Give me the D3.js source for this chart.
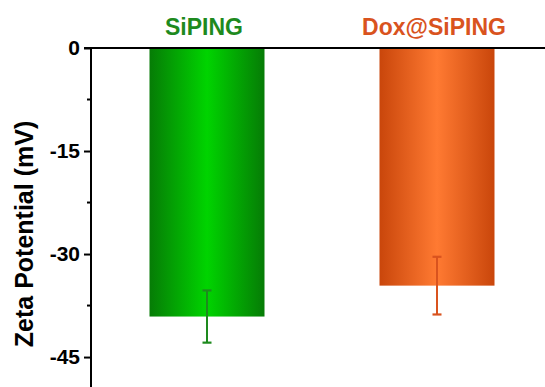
<!DOCTYPE html>
<html>
<head>
<meta charset="utf-8">
<script src="https://cdn.jsdelivr.net/npm/d3@7"></script>
<style>
  html, body { margin: 0; padding: 0; background: #ffffff; }
  svg { display: block; font-family: Arial, "Liberation Sans", sans-serif; }
</style>
</head>
<body>
<svg id="chart" width="545" height="387"></svg>
<script>
// Zeta potential of the two nanoparticle formulations (mean ± SD, mV)
const categories = ["SiPING", "Dox@SiPING"];
const zetaMean = [-39.1, -34.6];
const zetaSD = [3.8, 4.2];
const majorTicks = [0, -15, -30, -45];
const minorTicks = [-7.5, -22.5, -37.5];

const palette = {
  "SiPING": { edge: "#067c06", mid: "#00d400", label: "#1e8a1e", err: "#1e8a1e" },
  "Dox@SiPING": { edge: "#c9460b", mid: "#ff7a32", label: "#d9531e", err: "#d9531e" }
};

const svg = d3.select("#chart");

const y = d3.scaleLinear().domain([-50, 0]).range([391.4, 48]);
const x = d3.scaleBand().domain(categories).range([92, 552])
  .paddingInner(0.5).paddingOuter(0.25);

// horizontal shading of each bar: darker edges, bright centre
const defs = svg.append("defs");
categories.forEach((c, i) => {
  const g = defs.append("linearGradient")
    .attr("id", "grad" + i).attr("x1", "0%").attr("x2", "100%")
    .attr("y1", "0%").attr("y2", "0%");
  g.append("stop").attr("offset", "0%").attr("stop-color", palette[c].edge);
  g.append("stop").attr("offset", "50%").attr("stop-color", palette[c].mid);
  g.append("stop").attr("offset", "100%").attr("stop-color", palette[c].edge);
});

// bars hang down from zero
svg.append("g").selectAll("rect")
  .data(categories)
  .join("rect")
  .attr("x", d => x(d))
  .attr("width", x.bandwidth())
  .attr("y", y(0))
  .attr("height", (d, i) => y(zetaMean[i]) - y(0))
  .attr("fill", (d, i) => `url(#grad${i})`);

// error bars
const eb = svg.append("g");
categories.forEach((c, i) => {
  const cx = x(c) + x.bandwidth() / 2;
  const top = y(zetaMean[i] + zetaSD[i]);
  const bot = y(zetaMean[i] - zetaSD[i]);
  const col = palette[c].err;
  eb.append("line").attr("x1", cx).attr("x2", cx).attr("y1", top).attr("y2", bot)
    .attr("stroke", col).attr("stroke-width", 2);
  [top, bot].forEach(yy => eb.append("line")
    .attr("x1", cx - 4.5).attr("x2", cx + 4.5).attr("y1", yy).attr("y2", yy)
    .attr("stroke", col).attr("stroke-width", 2.2));
});

// category labels above the zero line
svg.append("g").selectAll("text")
  .data(categories)
  .join("text")
  .attr("x", d => x(d) + x.bandwidth() / 2 - 3)
  .attr("y", 35)
  .attr("text-anchor", "middle")
  .attr("font-size", 23)
  .attr("font-weight", "bold")
  .attr("fill", d => palette[d].label)
  .text(d => d);

// zero line across the top
svg.append("line")
  .attr("x1", 84).attr("x2", 545)
  .attr("y1", y(0)).attr("y2", y(0))
  .attr("stroke", "#000").attr("stroke-width", 2);

// left axis with major labelled ticks
const yAxis = svg.append("g")
  .attr("transform", "translate(91,0)")
  .call(d3.axisLeft(y).tickValues(majorTicks).tickSize(7).tickPadding(4)
    .tickFormat(d => String(d)));
yAxis.select(".domain").attr("stroke-width", 2).attr("d", `M0,${y(0)}V387`);
yAxis.selectAll(".tick line").attr("stroke-width", 2);
yAxis.selectAll(".tick text")
  .attr("font-size", 21)
  .attr("font-weight", "bold")
  .attr("font-family", "Arial, 'Liberation Sans', sans-serif")
  .attr("fill", "#000");

// minor ticks
svg.append("g").selectAll("line")
  .data(minorTicks)
  .join("line")
  .attr("x1", 87).attr("x2", 91)
  .attr("y1", d => y(d)).attr("y2", d => y(d))
  .attr("stroke", "#000").attr("stroke-width", 2);

// axis title
svg.append("text")
  .attr("transform", "translate(33,234) rotate(-90)")
  .attr("text-anchor", "middle")
  .attr("font-size", 25)
  .attr("font-weight", "bold")
  .attr("fill", "#000")
  .text("Zeta Potential (mV)");
</script>
</body>
</html>
